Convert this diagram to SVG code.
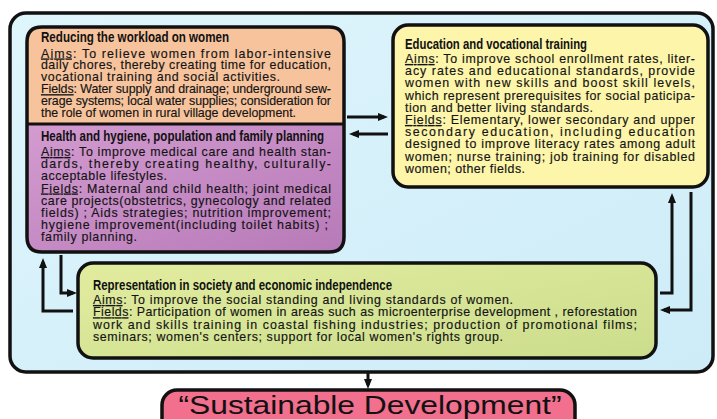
<svg xmlns="http://www.w3.org/2000/svg" width="717" height="419" viewBox="0 0 717 419">
<defs>
<linearGradient id="gPurple" x1="0" y1="0" x2="1" y2="1">
<stop offset="0" stop-color="#d39bd0"/><stop offset="1" stop-color="#b77ab8"/>
</linearGradient>
<linearGradient id="gGreen" x1="0" y1="0" x2="1" y2="1">
<stop offset="0" stop-color="#e2ec9f"/><stop offset="1" stop-color="#cbdd8c"/>
</linearGradient>
<linearGradient id="gBlue" x1="0" y1="0" x2="1" y2="1">
<stop offset="0" stop-color="#dff5fc"/><stop offset="1" stop-color="#cdecf8"/>
</linearGradient>
<marker id="ah" markerUnits="userSpaceOnUse" markerWidth="10" markerHeight="8" refX="6" refY="4" orient="auto">
<path d="M0,0 L10,4 L0,8 Z" fill="#111"/>
</marker>
<style>
.box{stroke:#111;stroke-width:3.5}
.ttl{font-family:"Liberation Sans",Arial,sans-serif;font-weight:bold;font-size:14px;fill:#111}
.bd{font-family:"Liberation Sans",Arial,sans-serif;font-size:12.4px;fill:#141414;stroke:#141414;stroke-width:0.15}
.u{text-decoration:underline}
.con{fill:none;stroke:#111;stroke-width:3;marker-end:url(#ah)}
</style>
</defs>
<rect width="717" height="419" fill="#ffffff"/>
<g id="frame">
<rect x="10" y="13" width="703" height="359" rx="16" fill="url(#gBlue)" class="box"/>
</g>
<g id="workload">
<path d="M27,124 V42 Q27,27 42,27 H329 Q344,27 344,42 V124 Z" fill="#f7c39c"/>
<text class="ttl" x="41" y="41.5" textLength="188" lengthAdjust="spacingAndGlyphs">Reducing the workload on women</text>
<text class="bd" x="41" y="57.5" textLength="290" lengthAdjust="spacing"><tspan class="u">Aims</tspan>: To relieve women from labor-intensive</text>
<text class="bd" x="41" y="69.4" textLength="290" lengthAdjust="spacing">daily chores, thereby creating time for education,</text>
<text class="bd" x="41" y="81.3" textLength="239" lengthAdjust="spacing">vocational training and social activities.</text>
<text class="bd" x="41" y="93.2" textLength="290" lengthAdjust="spacing"><tspan class="u">Fields</tspan>: Water supply and drainage; underground sew-</text>
<text class="bd" x="41" y="105.1" textLength="290" lengthAdjust="spacing">erage systems; local water supplies; consideration for</text>
<text class="bd" x="41" y="117" textLength="255" lengthAdjust="spacing">the role of women in rural village development.</text>
</g>
<g id="health">
<path d="M27,124 H344 V237 Q344,252 329,252 H42 Q27,252 27,237 Z" fill="url(#gPurple)"/>
<text class="ttl" x="41" y="140.5" textLength="283" lengthAdjust="spacingAndGlyphs">Health and hygiene, population and family planning</text>
<text class="bd" x="41" y="156" textLength="290" lengthAdjust="spacing"><tspan class="u">Aims</tspan>: To improve medical care and health stan-</text>
<text class="bd" x="41" y="168" textLength="290" lengthAdjust="spacing">dards, thereby creating healthy, culturally-</text>
<text class="bd" x="41" y="180" textLength="126" lengthAdjust="spacing">acceptable lifestyles.</text>
<text class="bd" x="41" y="192.5" textLength="290" lengthAdjust="spacing"><tspan class="u">Fields</tspan>: Maternal and child health; joint medical</text>
<text class="bd" x="41" y="204.5" textLength="290" lengthAdjust="spacing">care projects(obstetrics, gynecology and related</text>
<text class="bd" x="41" y="216.5" textLength="290" lengthAdjust="spacing">fields) ;  Aids strategies; nutrition improvement;</text>
<text class="bd" x="41" y="228.5" textLength="287" lengthAdjust="spacing">hygiene improvement(including toilet habits) ;</text>
<text class="bd" x="41" y="240.5" textLength="96" lengthAdjust="spacing">family planning.</text>
</g>
<g id="left-outline">
<path d="M27,124 V42 Q27,27 42,27 H329 Q344,27 344,42 V237 Q344,252 329,252 H42 Q27,252 27,237 Z" fill="none" class="box"/>
<line x1="27" y1="124" x2="344" y2="124" stroke="#111" stroke-width="3"/>
</g>
<g id="education">
<rect x="393" y="25" width="315" height="162" rx="15" fill="#fcf5aa" class="box"/>
<text class="ttl" x="405" y="48.5" textLength="182" lengthAdjust="spacingAndGlyphs">Education and vocational training</text>
<text class="bd" x="405" y="63" textLength="290" lengthAdjust="spacing"><tspan class="u">Aims</tspan>: To improve school enrollment rates, liter-</text>
<text class="bd" x="405" y="75.2" textLength="290" lengthAdjust="spacing">acy rates and educational standards, provide</text>
<text class="bd" x="405" y="87.4" textLength="290" lengthAdjust="spacing">women with new skills and boost skill levels,</text>
<text class="bd" x="405" y="99.6" textLength="290" lengthAdjust="spacing">which represent prerequisites for social paticipa-</text>
<text class="bd" x="405" y="111.8" textLength="188" lengthAdjust="spacing">tion and better living standards.</text>
<text class="bd" x="405" y="124" textLength="290" lengthAdjust="spacing"><tspan class="u">Fields</tspan>: Elementary, lower secondary and upper</text>
<text class="bd" x="405" y="136.2" textLength="290" lengthAdjust="spacing">secondary education, including education</text>
<text class="bd" x="405" y="148.4" textLength="290" lengthAdjust="spacing">designed to improve literacy rates among adult</text>
<text class="bd" x="405" y="160.6" textLength="290" lengthAdjust="spacing">women; nurse training; job training for disabled</text>
<text class="bd" x="405" y="172.8" textLength="120" lengthAdjust="spacing">women; other fields.</text>
</g>
<g id="representation">
<rect x="78" y="263" width="578" height="95" rx="15" fill="url(#gGreen)" class="box"/>
<text class="ttl" x="93" y="289.5" textLength="299" lengthAdjust="spacingAndGlyphs">Representation in society and economic independence</text>
<text class="bd" x="93" y="304" textLength="420" lengthAdjust="spacing"><tspan class="u">Aims</tspan>: To improve the social standing and living standards of women.</text>
<text class="bd" x="93" y="316.3" textLength="544" lengthAdjust="spacing"><tspan class="u">Fields</tspan>: Participation of women in areas such as microenterprise development , reforestation</text>
<text class="bd" x="93" y="328.6" textLength="544" lengthAdjust="spacing">work and skills training in coastal fishing industries; production of promotional films;</text>
<text class="bd" x="93" y="341" textLength="410" lengthAdjust="spacing">seminars; women's centers; support for local women's rights group.</text>
</g>
<g id="sustainable">
<rect x="162" y="390" width="413" height="44" rx="15" fill="#f26f8e" class="box"/>
<text x="370" y="414" text-anchor="middle" font-family="'Liberation Sans',Arial,sans-serif" font-size="25" fill="#111" textLength="383" lengthAdjust="spacingAndGlyphs">“Sustainable Development”</text>
</g>
<g id="connectors">
<line class="con" x1="347" y1="117" x2="384" y2="117"/>
<line class="con" x1="388" y1="134" x2="353" y2="134"/>
<polyline class="con" points="73,311 43,311 43,262"/>
<polyline class="con" points="61,255 61,293 73,293"/>
<polyline class="con" points="660,293 672,293 672,197"/>
<polyline class="con" points="691,192 691,310 664,310"/>
<line class="con" x1="368" y1="373" x2="368" y2="385"/>
</g>
</svg>
